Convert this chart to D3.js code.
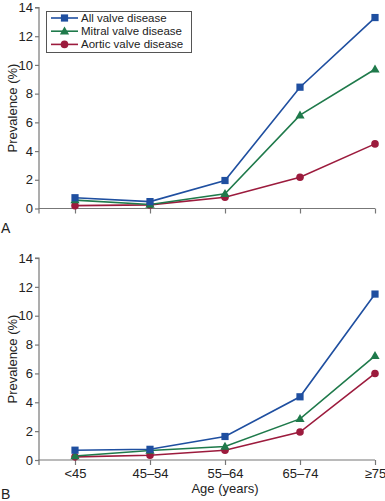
<!DOCTYPE html>
<html><head><meta charset="utf-8">
<script src="https://cdn.jsdelivr.net/npm/d3@7"></script>
<style>body{margin:0;background:#fff}svg{display:block}text{font-family:Arial,"Liberation Sans",sans-serif}</style>
</head><body><svg id="c" width="385" height="501"></svg>
<script>
const ageGroups = ["<45","45–54","55–64","65–74","≥75"];
const yTicks = [0,2,4,6,8,10,12,14];
const seriesNames = ["All valve disease","Mitral valve disease","Aortic valve disease"];
const seriesColors = ["#1f4fa0","#1f7a4b","#9c1b3d"];
const seriesMarkers = ["square","triangle","circle"];
const panelA_all = [0.75,0.48,1.95,8.45,13.3];
const panelA_mitral = [0.58,0.28,1.02,6.5,9.7];
const panelA_aortic = [0.2,0.25,0.78,2.18,4.5];
const panelB_all = [0.68,0.74,1.63,4.38,11.5];
const panelB_mitral = [0.28,0.66,0.93,2.85,7.22];
const panelB_aortic = [0.22,0.33,0.68,1.94,6.0];

const svg = d3.select("#c");
const axisColor = "#777";
const x = d3.scalePoint().domain(ageGroups).range([75,375]);

const panels = [
  {label:"A", labelY:233, top:7.5, bottom:208.5, data:[panelA_all,panelA_mitral,panelA_aortic], xlabels:false, legend:true},
  {label:"B", labelY:499, top:258, bottom:460, data:[panelB_all,panelB_mitral,panelB_aortic], xlabels:true, legend:false}
];

function marker(g, type, cx, cy, color){
  if(type==="square") g.append("rect").attr("x",cx-3.6).attr("y",cy-3.6).attr("width",7.2).attr("height",7.2).attr("fill",color);
  else if(type==="triangle") g.append("path").attr("d",`M${cx},${cy-4.8}L${cx+4.6},${cy+3.2}L${cx-4.6},${cy+3.2}Z`).attr("fill",color);
  else g.append("circle").attr("cx",cx).attr("cy",cy).attr("r",3.8).attr("fill",color);
}

panels.forEach(p=>{
  const y = d3.scaleLinear().domain([0,14]).range([p.bottom,p.top]);
  const g = svg.append("g");
  const ya = g.append("g").attr("transform","translate(39,0)").call(d3.axisLeft(y).tickValues(yTicks).tickSize(4).tickPadding(2));
  ya.select(".domain").attr("stroke",axisColor).attr("stroke-width",1.2).attr("d",`M-4,${p.top}H0V${p.bottom}`);
  ya.selectAll(".tick line").attr("stroke",axisColor).attr("stroke-width",1.2);
  ya.selectAll(".tick text").attr("fill","#222").style("font-size","13px");
  const xa = g.append("g").attr("transform",`translate(0,${p.bottom})`).call(d3.axisBottom(x).tickSize(5).tickPadding(4).tickFormat(p.xlabels?null:""));
  xa.select(".domain").attr("stroke",axisColor).attr("stroke-width",1.2).attr("d",`M39,5V0H375`);
  xa.selectAll(".tick line").attr("stroke",axisColor).attr("stroke-width",1.2);
  xa.selectAll(".tick text").attr("fill","#222").style("font-size","13px");
  g.append("text").attr("transform",`translate(12,${(p.top+p.bottom)/2}) rotate(-90)`).attr("text-anchor","middle")
    .attr("dy","0.35em").style("font-size","13px").attr("fill","#222").text("Prevalence (%)");
  g.append("text").attr("x",1).attr("y",p.labelY).style("font-size","14px").attr("fill","#222").text(p.label);
  const line = d3.line().x((d,i)=>x(ageGroups[i])).y(d=>y(d));
  [2,1,0].forEach(si=>{
    const vals = p.data[si];
    g.append("path").attr("d",line(vals)).attr("fill","none").attr("stroke",seriesColors[si]).attr("stroke-width",1.6);
    vals.forEach((v,i)=>marker(g,seriesMarkers[si],x(ageGroups[i]),y(v),seriesColors[si]));
  });
  if(p.legend){
    const lg = g.append("g");
    lg.append("rect").attr("x",46.5).attr("y",11.5).attr("width",145).attr("height",41).attr("fill","#fff").attr("stroke","#555").attr("stroke-width",1);
    seriesNames.forEach((n,i)=>{
      const cy = 18+i*13.2;
      lg.append("line").attr("x1",51).attr("x2",78).attr("y1",cy).attr("y2",cy).attr("stroke",seriesColors[i]).attr("stroke-width",1.6);
      marker(lg,seriesMarkers[i],64.5,cy,seriesColors[i]);
      lg.append("text").attr("x",81).attr("y",cy).attr("dy","0.35em").style("font-size","11.5px").attr("fill","#222").text(n);
    });
  }
});
svg.append("text").attr("x",225).attr("y",493).attr("text-anchor","middle").style("font-size","13px").attr("fill","#222").text("Age (years)");
</script></body></html>
